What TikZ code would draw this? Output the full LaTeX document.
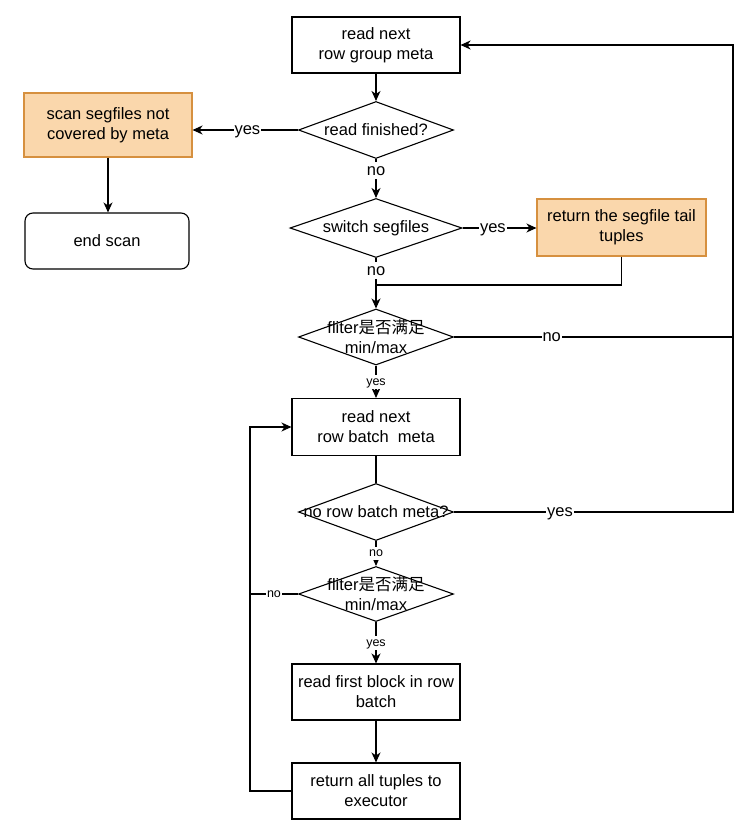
\documentclass[tikz,border=0pt]{standalone}
\usepackage{fontspec}
\setmainfont{Liberation Sans}
\newfontfamily\cjk{Noto Sans CJK SC}
\usetikzlibrary{shapes.geometric,arrows.meta}
\definecolor{orfill}{HTML}{FAD7AC}
\definecolor{ordraw}{HTML}{D6903F}
\tikzset{
  base/.style={draw, line width=1.1pt, font=\fontsize{16.5}{20}\selectfont, align=center, inner sep=0pt},
  box/.style={base, rectangle, minimum width=168pt, minimum height=56pt},
  obox/.style={box, fill=orfill, draw=ordraw},
  rbox/.style={box, rounded corners=8pt},
  dia/.style={draw, line width=1.1pt, diamond, inner sep=0pt, minimum width=155pt, minimum height=57pt},
  dtext/.style={font=\fontsize{16.5}{20}\selectfont, align=center, inner sep=0pt},
  conn/.style={line width=1.1pt},
  arr/.style={conn, -{Stealth[length=10pt,width=9pt,inset=3pt]}},
  lbl/.style={fill=white, inner sep=1pt, text height=12pt, text depth=3.3pt, font=\fontsize{16.5}{20}\selectfont},
  slbl/.style={fill=white, inner sep=1pt, text height=9pt, text depth=2.5pt, font=\fontsize{12.5}{15}\selectfont},
}
\begin{document}
\begin{tikzpicture}[x=1pt,y=-1pt]
\useasboundingbox[fill=white] (0,0) rectangle (755,835);
% process boxes
\node[box] (N1) at (376,45) {read next\\row group meta};
\node[dia, label={[dtext]center:read finished?}] (D1) at (376,130) {};
\node[obox, minimum height=64pt] (S1) at (108,125) {scan segfiles not\\covered by meta};
\node[rbox, minimum width=164pt] (E1) at (107,241) {end scan};
\node[dia, minimum width=172pt, minimum height=59pt, label={[dtext]center:switch segfiles}] (D2) at (376,228) {};
\node[obox, minimum width=169pt, minimum height=57pt] (R1) at (621.5,227.5) {return the segfile tail\\tuples};
\node[dia, minimum height=56pt, label={[dtext]center:fliter{\cjk 是否满足}\\min/max}] (D3) at (376,337) {};
\node[box, minimum height=57pt] (N2) at (376,427) {read next\\row batch\ \ meta};
\node[dia, label={[dtext]center:no row batch meta?}] (D4) at (376,512) {};
\node[dia, minimum height=55pt, label={[dtext]center:fliter{\cjk 是否满足}\\min/max}] (D5) at (376,594) {};
\node[box] (N3) at (376,692) {read first block in row\\batch};
\node[box] (N4) at (376,791) {return all tuples to\\executor};
% helper coordinates
\coordinate (J) at (376,285);
\coordinate (RT) at (733,512);
\coordinate (LB) at (250,791);
% connectors
\draw[arr] (N1.south) -- (D1.north);
\draw[arr] (D1.west) -- node[lbl, pos=0.48]{yes} (D1.west -| S1.east);
\draw[arr] (S1.south) -- (S1.south |- E1.north);
\draw[arr] (D1.south) -- node[lbl, pos=0.3]{no} (D2.north);
\draw[arr] (D2.east) -- node[lbl, pos=0.41]{yes} (D2.east -| R1.west);
\draw[arr] (D2.south) -- node[lbl, pos=0.25]{no} (D3.north);
\draw[conn] (R1.south) |- (J);
\draw[conn] (D3.east) -- node[lbl, pos=0.35]{no} (D3.east -| RT);
\draw[arr] (D4.east) -- node[lbl, pos=0.38]{yes} (RT) |- (N1.east);
\draw[arr] (D3.south) -- node[slbl]{yes} (N2.north);
\draw[conn] (N2.south) -- (D4.north);
\draw[arr] (D4.south) -- node[slbl]{no} (D5.north);
\draw[conn] (D5.west) -- node[slbl]{no} (D5.west -| LB);
\draw[arr] (N4.west) -- (LB) |- (N2.west);
\draw[arr] (D5.south) -- node[slbl]{yes} (N3.north);
\draw[arr] (N3.south) -- (N4.north);
\end{tikzpicture}
\end{document}
